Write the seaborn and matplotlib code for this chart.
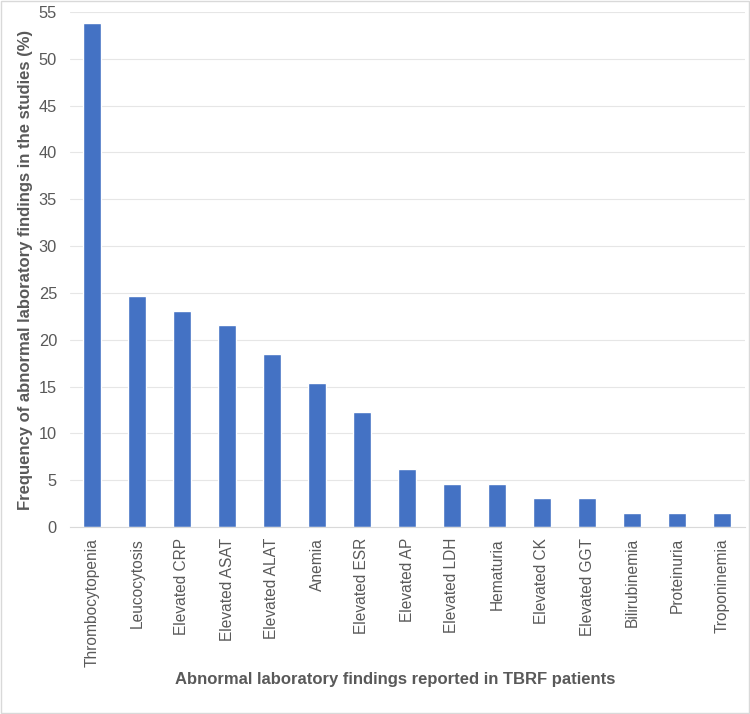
import matplotlib
matplotlib.use("Agg")
import matplotlib.pyplot as plt
import seaborn as sns
import pandas as pd

findings = ['Thrombocytopenia', 'Leucocytosis', 'Elevated CRP', 'Elevated ASAT',
            'Elevated ALAT', 'Anemia', 'Elevated ESR', 'Elevated AP', 'Elevated LDH',
            'Hematuria', 'Elevated CK', 'Elevated GGT', 'Bilirubinemia',
            'Proteinuria', 'Troponinemia']
frequency = [53.85, 24.62, 23.08, 21.54, 18.46, 15.38, 12.31, 6.15, 4.62,
             4.62, 3.08, 3.08, 1.54, 1.54, 1.54]

df = pd.DataFrame({'finding': findings, 'freq': frequency})

sns.set_theme(style="white")
plt.rcParams['font.family'] = ['Liberation Sans', 'DejaVu Sans']

fig = plt.figure(figsize=(7.5, 7.14), dpi=100)
ax = fig.add_axes([69.5 / 750, 1 - 527 / 714, 675 / 750, 515 / 714])

sns.barplot(data=df, x='finding', y='freq', color='#4472C4', saturation=1,
            width=0.38, ax=ax)

ax.set_ylim(0, 55)
ax.set_xlim(-0.5, len(findings) - 0.5)
ax.set_yticks(range(0, 56, 5))
ax.yaxis.grid(True, color='#e6e6e6', linewidth=0.8)
ax.set_axisbelow(True)
for s in ['top', 'right', 'left']:
    ax.spines[s].set_visible(False)
ax.spines['bottom'].set_color('#d9d9d9')
ax.spines['bottom'].set_linewidth(0.8)

ax.tick_params(axis='both', length=0, labelsize=11.2, labelcolor='#595959')
ax.tick_params(axis='y', pad=9, labelsize=11.8)
ax.tick_params(axis='x', pad=8)
plt.setp(ax.get_xticklabels(), rotation=90)

ax.set_xlabel('Abnormal laboratory findings reported in TBRF patients',
              fontsize=12, fontweight='bold', color='#595959')
ax.set_ylabel('Frequency of abnormal laboratory findings in the studies (%)',
              fontsize=12, fontweight='bold', color='#595959')
ax.xaxis.set_label_coords(0.482, -0.281)
ax.yaxis.set_label_coords(-0.054, 0.5)

fig.patches.append(plt.Rectangle((0.001, 0.001), 0.998, 0.998, transform=fig.transFigure,
                                 fill=False, edgecolor='#d9d9d9', linewidth=1))

plt.savefig('out.png', dpi=100)
